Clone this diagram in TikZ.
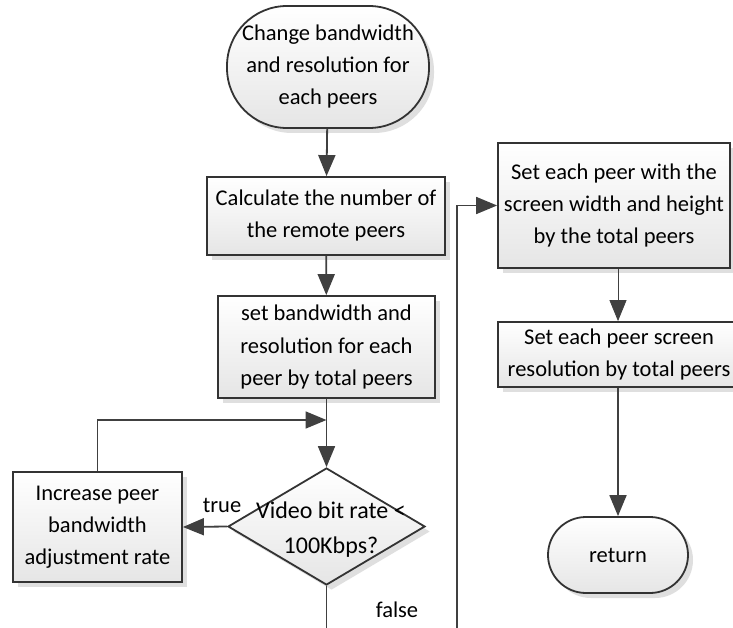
\documentclass[tikz,border=0pt]{standalone}
\usepackage{fontspec}
\setmainfont{Carlito}
\usetikzlibrary{arrows.meta,shadows,shapes.geometric,calc}

\begin{document}
\begin{tikzpicture}[x=1pt,y=-1pt,
  font=\fontsize{22.5}{32}\selectfont,
  conn/.style={draw=black!75, line width=1.8pt},
  tip/.style={-{Triangle[length=21pt,width=17pt]}},
  shadedshape/.style={top color=white, bottom color=black!10, draw=black!80,
    line width=1.8pt,
    drop shadow={shadow xshift=5pt, shadow yshift=-5pt, fill=black!25}},
  procbox/.style={shadedshape, rectangle, inner sep=0pt, align=center},
  lbl/.style={inner sep=0pt, align=center},
]
\useasboundingbox (0,0) rectangle (733,628);
\clip (0,0) rectangle (733,628);

% left column
\node[procbox, rounded corners=60pt, minimum width=202pt, minimum height=122pt]
  (start) at (328,67) {Change bandwidth\\and resolution for\\each peers};
\node[procbox, minimum width=238pt, minimum height=78pt]
  (calc) at (326,216) {Calculate the number of\\the remote peers};
\node[procbox, minimum width=217pt, minimum height=102pt]
  (setbw) at (326.5,347) {set bandwidth and\\resolution for each\\peer by total peers};
\node[shadedshape, diamond, inner sep=0pt, minimum width=197pt, minimum height=117pt]
  (dia) at (326.5,526.5) {};
\node[lbl, font=\fontsize{24}{35}\selectfont] (diatxt) at (331,530) {Video bit rate <\\100Kbps?};
\node[procbox, minimum width=169pt, minimum height=110pt]
  (inc) at (97.5,527) {Increase peer\\bandwidth\\adjustment rate};

% right column
\node[procbox, minimum width=232pt, minimum height=125pt]
  (scr) at (614,205.5) {Set each peer with the\\screen width and height\\by the total peers};
\node[procbox, minimum width=242pt, minimum height=65pt]
  (res) at (619,354.5) {Set each peer screen\\resolution by total peers};
\node[procbox, rounded corners=38pt, minimum width=140pt, minimum height=76pt]
  (ret) at (618,555) {return};

% connectors
\coordinate (merge) at (326.5,420);
\draw[conn,tip] (start) -- (calc);
\draw[conn,tip] (calc) -- (setbw);
\draw[conn,tip] (setbw) -- (dia);
\draw[conn,tip] (inc.north) |- (merge);
\draw[conn,tip] (dia.west) -- (inc.east);
\draw[conn,tip] (dia.south) -- ++(0,70) -| ($(scr.west)+(-40,0)$) -- (scr.west);
\draw[draw=black!75, line width=0.8pt, tip] (scr.south -| ret.north) -- (res.north -| ret.north);
\draw[conn,tip] (res.south -| ret.north) -- (ret.north);

\node[lbl] (truelbl) at (222,505) {true};
\node[lbl] (falselbl) at (397,610) {false};
\end{tikzpicture}
\end{document}
